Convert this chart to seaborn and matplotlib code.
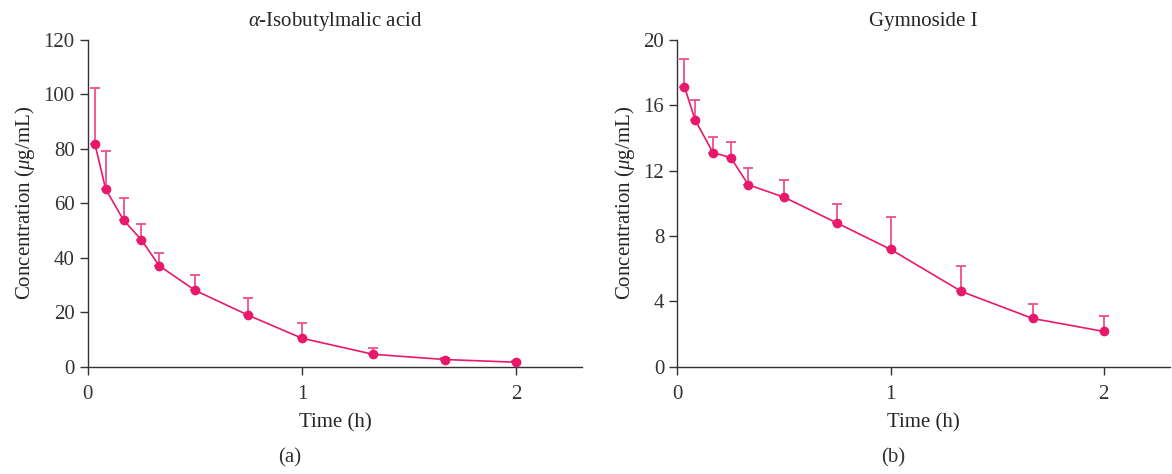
import numpy as np
import pandas as pd
import seaborn as sns
import matplotlib.pyplot as plt

# sampling times (h)
time_h = [0.033, 0.083, 0.167, 0.25, 0.333, 0.5, 0.75, 1.0, 1.333, 1.667, 2.0]

# alpha-isobutylmalic acid: mean and upper SD (ug/mL)
iba_mean = [81.7, 65.2, 53.8, 46.6, 37.1, 28.1, 18.9, 10.5, 4.6, 2.7, 1.7]
iba_sd = [20.7, 14.1, 8.3, 6.0, 4.6, 5.5, 6.3, 5.7, 2.3, 0.5, 0.4]

# gymnoside I: mean and upper SD (ug/mL)
gym_mean = [17.14, 15.1, 13.1, 12.8, 11.13, 10.38, 8.79, 7.19, 4.61, 2.96, 2.17]
gym_sd = [1.66, 1.25, 0.95, 0.93, 1.03, 1.03, 1.18, 1.95, 1.58, 0.88, 0.94]

line_col = '#E8196B'
err_col = '#EE4F8C'

sns.set_style('ticks')
plt.rcParams['font.family'] = ['Liberation Serif', 'DejaVu Serif']
plt.rcParams['mathtext.fontset'] = 'custom'
plt.rcParams['mathtext.it'] = 'Liberation Serif:italic'
plt.rcParams['mathtext.rm'] = 'Liberation Serif'

fig = plt.figure(figsize=(11.72, 4.74), dpi=100)
ax1 = fig.add_axes([0.075, 0.226, 0.422, 0.690])
ax2 = fig.add_axes([0.578, 0.226, 0.420, 0.690])

panels = [
    (ax1, iba_mean, iba_sd, r'$\it{\alpha}$-Isobutylmalic acid', [0, 20, 40, 60, 80, 100, 120], '(a)', 0.247),
    (ax2, gym_mean, gym_sd, 'Gymnoside I', [0, 4, 8, 12, 16, 20], '(b)', 0.762),
]

fs = 15
for ax, mean, sd, title, yticks, tag, tag_x in panels:
    df = pd.DataFrame({'time': time_h, 'conc': mean, 'sd': sd})
    # one-sided (upper) error bars
    ax.errorbar(df['time'], df['conc'], yerr=[np.zeros(len(df)), df['sd']],
                fmt='none', ecolor=err_col, elinewidth=1.3, capsize=3.5,
                capthick=1.3, zorder=2)
    sns.lineplot(data=df, x='time', y='conc', ax=ax, color=line_col,
                 marker='o', markersize=7, markeredgewidth=0, linewidth=1.2,
                 zorder=3)
    ax.set_xlim(0, 2.31)
    ax.set_ylim(0, yticks[-1])
    ax.set_xticks([0, 1, 2])
    ax.set_yticks(yticks)
    ax.set_xlabel('Time (h)', fontsize=fs, labelpad=7)
    ax.set_ylabel(r'Concentration ($\it{\mu}$g/mL)', fontsize=fs, labelpad=5)
    ax.set_title(title, fontsize=fs, pad=10)
    ax.tick_params(labelsize=fs, length=6, width=1, color='#333333',
                   labelcolor='#333333')
    ax.tick_params(axis='x', pad=7)
    for s in ['left', 'bottom']:
        ax.spines[s].set_color('#333333')
        ax.spines[s].set_linewidth(1)
    sns.despine(ax=ax)
    fig.text(tag_x, 0.025, tag, fontsize=fs, ha='center', color='#333333')

fig.savefig('out.png', dpi=100)
